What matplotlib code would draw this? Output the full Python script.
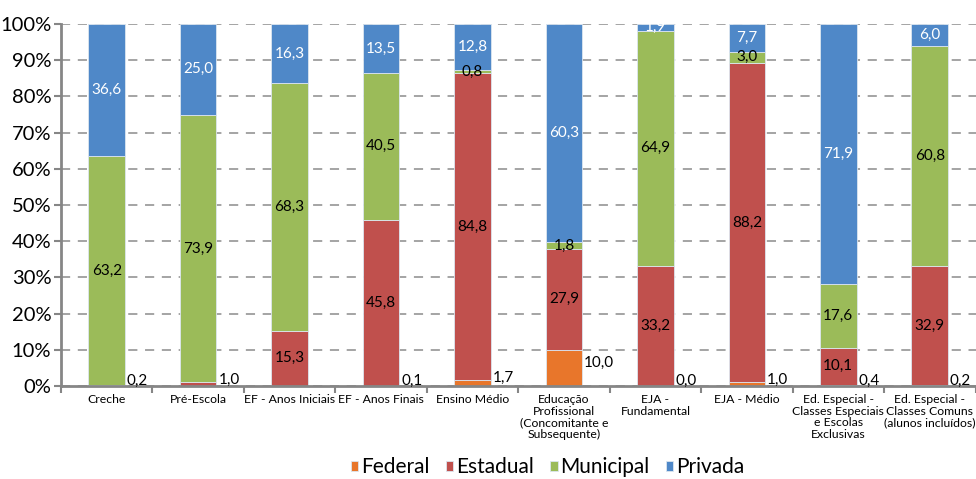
import numpy as np
import matplotlib.pyplot as plt

plt.rcParams["font.family"] = ["Lato", "DejaVu Sans"]

categories = [
    "Creche",
    "Pré-Escola",
    "EF - Anos Iniciais",
    "EF - Anos Finais",
    "Ensino Médio",
    "Educação\nProfissional\n(Concomitante e\nSubsequente)",
    "EJA -\nFundamental",
    "EJA - Médio",
    "Ed. Especial -\nClasses Especiais\ne Escolas\nExclusivas",
    "Ed. Especial -\nClasses Comuns\n(alunos incluídos)",
]
federal = [0.2, 0.0, 0.0, 0.1, 1.7, 10.0, 0.0, 1.0, 0.4, 0.2]
estadual = [0.0, 1.0, 15.3, 45.8, 84.8, 27.9, 33.2, 88.2, 10.1, 32.9]
municipal = [63.2, 73.9, 68.3, 40.5, 0.8, 1.8, 64.9, 3.0, 17.6, 60.8]
privada = [36.6, 25.0, 16.3, 13.5, 12.8, 60.3, 1.9, 7.7, 71.9, 6.0]
# the bottom value that is written beside the bar instead of inside it
side_series = ["Federal", "Estadual", None, "Federal", "Federal",
               "Federal", "Federal", "Federal", "Federal", "Federal"]

series = [
    ("Federal", federal, "#E8762B", "black"),
    ("Estadual", estadual, "#C0504D", "black"),
    ("Municipal", municipal, "#9BBB59", "black"),
    ("Privada", privada, "#4F88C8", "white"),
]


def fmt(v):
    return f"{v:.1f}".replace(".", ",")


data = np.array([s[1] for s in series], dtype=float)
shares = data / data.sum(axis=0) * 100

fig = plt.figure(figsize=(9.76, 4.79), dpi=100)
ax = fig.add_axes([0.0625, 0.194, 0.937, 0.756])

x = np.arange(len(categories))
bar_w = 0.4
bottom = np.zeros(len(categories))
for k, (name, vals, color, tcolor) in enumerate(series):
    ax.bar(x, shares[k], bar_w, bottom=bottom, color=color,
           edgecolor="#dce6f0", linewidth=0.6, label=name, zorder=2)
    for i, v in enumerate(vals):
        if side_series[i] == name:
            ax.text(x[i] + bar_w / 2 + 0.02, shares[k][i] / 2 + 1.3, fmt(v),
                    ha="left", va="center", fontsize=11, color="black", zorder=3)
        elif v > 0 and name != "Federal":
            ax.text(x[i], bottom[i] + shares[k][i] / 2, fmt(v),
                    ha="center", va="center", fontsize=11,
                    color=tcolor, zorder=3)
    bottom += shares[k]

ax.set_xlim(-0.5, len(categories) - 0.5)
ax.set_ylim(0, 100)
ax.set_yticks(np.arange(0, 101, 10))
ax.set_yticklabels([f"{t}%" for t in range(0, 101, 10)], fontsize=14.5)
ax.set_xticks(x)
ax.set_xticklabels(categories, fontsize=8.8, linespacing=1.05)
ax.set_xticks(np.arange(-0.5, len(categories), 1), minor=True)
ax.tick_params(axis="x", which="major", length=0, pad=6)
ax.tick_params(axis="x", which="minor", length=5, width=1.5, color="#868686")
ax.tick_params(axis="y", length=5, width=1.5, color="#868686", pad=2)

ax.yaxis.grid(True, color="#8c8c8c", linestyle=(0, (6, 5)), linewidth=1.1)
ax.set_axisbelow(True)
for side in ["top", "right"]:
    ax.spines[side].set_visible(False)
for side in ["left", "bottom"]:
    ax.spines[side].set_color("#868686")
    ax.spines[side].set_linewidth(2)

ax.legend(loc="center", bbox_to_anchor=(0.532, -0.224), ncol=4, frameon=False,
          fontsize=15, handlelength=0.35, handleheight=0.35, handletextpad=0.12,
          columnspacing=0.8, borderpad=0)

fig.savefig("out.png", dpi=100)
